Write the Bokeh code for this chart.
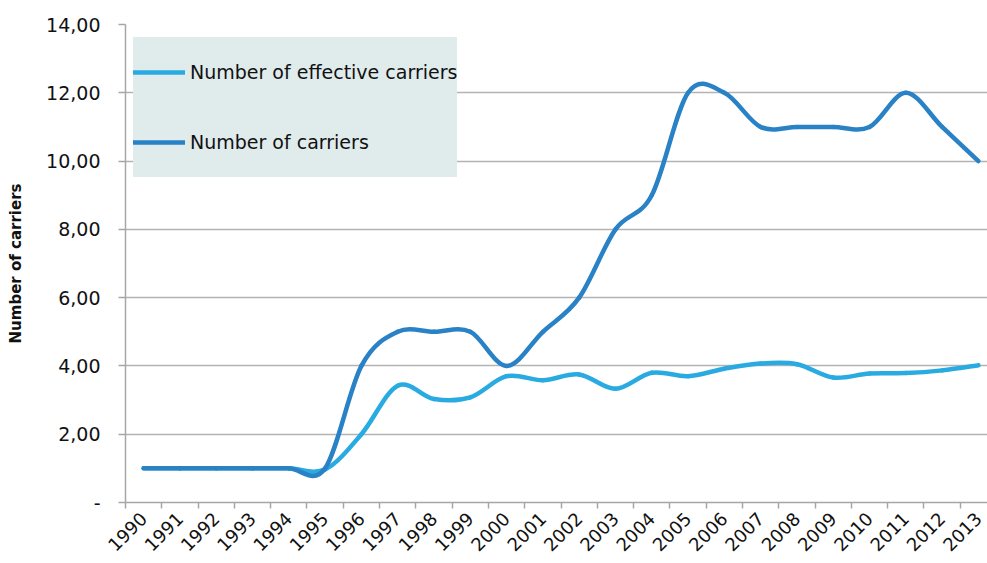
import numpy as np
from bokeh.plotting import figure
from bokeh.models import FixedTicker, Range1d, Legend, LegendItem, ColumnDataSource
from bokeh.embed import file_html
from bokeh.resources import INLINE

years = [str(y) for y in range(1990, 2014)]
effective = [1.0, 1.0, 1.0, 1.0, 1.0, 0.97, 2.0, 3.42, 3.03, 3.08, 3.7, 3.58,
             3.75, 3.33, 3.8, 3.7, 3.92, 4.07, 4.05, 3.66, 3.78, 3.79, 3.87, 4.02]
carriers = [1, 1, 1, 1, 1, 1, 4, 5, 5, 5, 4, 5, 6, 8, 9, 12, 12, 11, 11, 11, 11, 12, 11, 10]
y_ticks = [0, 2, 4, 6, 8, 10, 12, 14]
y_labels = ["-", "2,00", "4,00", "6,00", "8,00", "10,00", "12,00", "14,00"]

FONT = "DejaVu Sans"
C_EFF = "#29abe2"
C_CAR = "#2a82c6"


def bezier_source(vals):
    xs = np.arange(len(vals), dtype=float)
    ys = np.asarray(vals, dtype=float)
    n = len(vals)
    d = dict(x0=[], y0=[], x1=[], y1=[], cx0=[], cy0=[], cx1=[], cy1=[])
    for i in range(n - 1):
        ip = max(i - 1, 0)
        inn = min(i + 2, n - 1)
        d["x0"].append(xs[i]); d["y0"].append(ys[i])
        d["x1"].append(xs[i + 1]); d["y1"].append(ys[i + 1])
        d["cx0"].append(xs[i] + (xs[i + 1] - xs[ip]) / 6)
        d["cy0"].append(ys[i] + (ys[i + 1] - ys[ip]) / 6)
        d["cx1"].append(xs[i + 1] - (xs[inn] - xs[i]) / 6)
        d["cy1"].append(ys[i + 1] - (ys[inn] - ys[i]) / 6)
    return ColumnDataSource(d)


p = figure(width=987, height=563, output_backend="svg", toolbar_location=None,
           x_range=Range1d(-0.5, 23.25), y_range=Range1d(0, 14))
p.min_border_left = 125
p.min_border_right = 0
p.min_border_top = 24
p.min_border_bottom = 61
p.outline_line_color = None
p.background_fill_color = "white"

centers = list(range(len(years)))
bounds = [i - 0.5 for i in range(len(years) + 1)]
p.xaxis.ticker = FixedTicker(ticks=centers, minor_ticks=bounds)
p.xaxis.major_label_overrides = {i: y for i, y in enumerate(years)}
p.xaxis.major_label_orientation = np.pi / 4
p.xaxis.major_tick_line_color = None
p.xaxis.minor_tick_out = 6
p.xaxis.minor_tick_in = 0
p.xaxis.minor_tick_line_color = "#a6a6a6"
p.xaxis.minor_tick_line_width = 1.5
p.xaxis.axis_line_color = "#a6a6a6"
p.xaxis.axis_line_width = 1.5
p.xaxis.major_label_text_font = FONT
p.xaxis.major_label_text_font_size = "18px"
p.xaxis.major_label_text_color = "#111111"
p.xaxis.major_label_standoff = 7

p.yaxis.ticker = FixedTicker(ticks=y_ticks)
p.yaxis.major_label_overrides = {t: l for t, l in zip(y_ticks, y_labels)}
p.yaxis.minor_tick_line_color = None
p.yaxis.major_tick_out = 7
p.yaxis.major_tick_in = 0
p.yaxis.major_tick_line_color = "#a6a6a6"
p.yaxis.major_tick_line_width = 1.5
p.yaxis.axis_line_color = "#a6a6a6"
p.yaxis.axis_line_width = 1.5
p.yaxis.major_label_text_font = FONT
p.yaxis.major_label_text_font_size = "19px"
p.yaxis.major_label_text_color = "#111111"
p.yaxis.major_label_standoff = 18
p.yaxis.axis_label = "Number of carriers"
p.yaxis.axis_label_text_font = FONT
p.yaxis.axis_label_text_font_size = "15px"
p.yaxis.axis_label_text_font_style = "bold"
p.yaxis.axis_label_text_color = "#111111"
p.yaxis.axis_label_standoff = 18

p.xgrid.grid_line_color = None
p.ygrid.ticker = FixedTicker(ticks=y_ticks)
p.ygrid.grid_line_color = "#b3b3b3"
p.ygrid.grid_line_width = 1.5

r_eff = p.bezier(x0="x0", y0="y0", x1="x1", y1="y1", cx0="cx0", cy0="cy0",
                 cx1="cx1", cy1="cy1", source=bezier_source(effective),
                 line_color=C_EFF, line_width=4.5, line_cap="round")
r_car = p.bezier(x0="x0", y0="y0", x1="x1", y1="y1", cx0="cx0", cy0="cy0",
                 cx1="cx1", cy1="cy1", source=bezier_source(carriers),
                 line_color=C_CAR, line_width=4.5, line_cap="round")

legend = Legend(items=[LegendItem(label="Number of effective carriers", renderers=[r_eff]),
                       LegendItem(label="Number of carriers", renderers=[r_car])],
                location=(8, 325), orientation="vertical")
legend.background_fill_color = "#e0ebeb"
legend.background_fill_alpha = 1.0
legend.border_line_color = None
legend.padding = 0
legend.spacing = 0
legend.label_height = 70
legend.glyph_height = 70
legend.glyph_width = 52
legend.label_standoff = 5
legend.margin = 0
legend.label_text_font = FONT
legend.label_text_font_size = "19px"
legend.label_text_color = "#111111"
p.add_layout(legend, "center")

open("out.html", "w").write(file_html(p, INLINE))
